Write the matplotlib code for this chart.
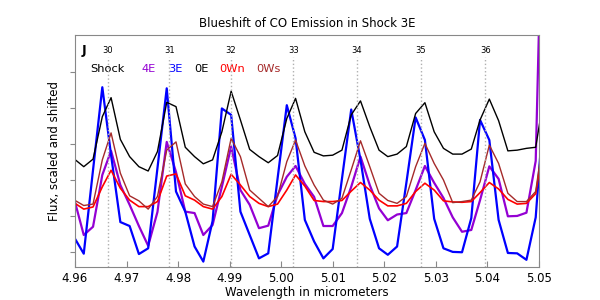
import matplotlib
matplotlib.use("Agg")
import matplotlib.pyplot as plt

# wavelength grid of the spectra (micrometers)
wavelength = [
    4.9599, 4.9617, 4.9635, 4.9653, 4.9670, 4.9688, 4.9706, 4.9724, 4.9742, 4.9760,
    4.9778, 4.9796, 4.9814, 4.9832, 4.9849, 4.9867, 4.9885, 4.9903, 4.9921, 4.9939,
    4.9957, 4.9975, 4.9993, 5.0011, 5.0028, 5.0046, 5.0064, 5.0082, 5.0100, 5.0118,
    5.0136, 5.0154, 5.0172, 5.0190, 5.0207, 5.0225, 5.0243, 5.0261, 5.0279, 5.0297,
    5.0315, 5.0333, 5.0351, 5.0369, 5.0386, 5.0404, 5.0422, 5.0440, 5.0458, 5.0476,
    5.0494, 5.0512,
]

# scaled and shifted flux per region
flux_4E = [
    1.44, 0.47, 0.70, 2.14, 2.81, 1.86, 1.31, 0.72, 0.17, 1.11,
    3.06, 2.22, 1.12, 1.08, 0.47, 0.75, 1.81, 2.93, 1.72, 1.31,
    0.66, 0.73, 1.58, 2.09, 2.39, 1.89, 1.53, 0.72, 0.72, 1.08,
    1.81, 2.65, 1.86, 1.21, 0.88, 1.04, 1.08, 1.72, 2.39, 1.92,
    1.50, 0.96, 0.56, 0.61, 1.44, 2.38, 2.03, 0.99, 1.00, 1.09,
    2.53, 13.0,
]
flux_3E = [
    0.39, -0.05, 2.28, 4.58, 2.69, 0.83, 0.72, -0.06, 0.10, 2.33,
    4.55, 1.68, 1.12, 0.15, -0.27, 0.86, 3.99, 3.81, 1.12, 0.47,
    -0.18, -0.04, 2.03, 4.08, 3.16, 0.89, 0.29, -0.18, 0.08, 2.03,
    3.96, 2.56, 0.92, 0.10, -0.08, 0.15, 1.92, 3.74, 3.11, 0.92,
    0.10, 0.00, -0.01, 0.94, 3.67, 3.11, 0.89, -0.03, -0.04, -0.22,
    0.96, 4.5,
]
flux_0E = [
    2.58, 2.37, 2.58, 3.76, 4.29, 3.13, 2.65, 2.37, 2.25, 2.79,
    4.16, 4.04, 2.91, 2.65, 2.45, 2.56, 3.34, 4.47, 3.67, 2.85,
    2.65, 2.48, 2.68, 3.71, 4.27, 3.34, 2.77, 2.67, 2.69, 2.83,
    3.81, 4.20, 3.48, 2.83, 2.65, 2.72, 2.93, 3.85, 4.15, 3.34,
    2.88, 2.72, 2.72, 2.86, 3.67, 4.25, 3.65, 2.81, 2.83, 2.88,
    2.91, 4.5,
]
flux_0Wn = [
    1.36, 1.19, 1.25, 1.81, 2.27, 1.77, 1.44, 1.26, 1.26, 1.40,
    2.11, 2.17, 1.56, 1.44, 1.26, 1.19, 1.54, 2.16, 1.86, 1.54,
    1.35, 1.26, 1.33, 1.72, 2.14, 1.83, 1.43, 1.40, 1.40, 1.43,
    1.69, 1.93, 1.72, 1.44, 1.28, 1.28, 1.35, 1.68, 1.91, 1.72,
    1.42, 1.39, 1.38, 1.40, 1.65, 1.93, 1.75, 1.46, 1.33, 1.35,
    1.62, 3.25,
]
flux_0Ws = [
    1.44, 1.29, 1.33, 2.56, 3.31, 2.19, 1.56, 1.42, 1.19, 1.54,
    2.83, 3.06, 1.89, 1.54, 1.33, 1.26, 1.95, 3.16, 2.65, 1.72,
    1.49, 1.26, 1.54, 2.51, 3.11, 2.39, 1.86, 1.44, 1.33, 1.49,
    2.28, 3.09, 2.37, 1.63, 1.43, 1.35, 1.54, 2.37, 3.02, 2.46,
    2.00, 1.37, 1.40, 1.44, 1.95, 2.97, 2.46, 1.63, 1.40, 1.40,
    1.68, 3.5,
]

# CO line positions and their numbers
line_numbers = [30, 31, 32, 33, 34, 35, 36]
line_wl = [4.96634, 4.97829, 4.99026, 5.00234, 5.01464, 5.02711, 5.03965]

region_names = ["4E", "3E", "0E", "0Wn", "0Ws"]
region_colors = ["#9400d3", "#0000ff", "black", "#ff0000", "#a52a2a"]
region_widths = [1.6, 1.6, 1.0, 1.2, 1.0]
region_flux = [flux_4E, flux_3E, flux_0E, flux_0Wn, flux_0Ws]

xticks = [4.96, 4.97, 4.98, 4.99, 5.00, 5.01, 5.02, 5.03, 5.04, 5.05]

fig, ax = plt.subplots(figsize=(6, 3), dpi=100)
fig.subplots_adjust(left=0.125, right=0.898, top=0.883, bottom=0.11)

for name, col, lw, flux in zip(region_names, region_colors, region_widths, region_flux):
    ax.plot(wavelength, flux, color=col, lw=lw)

# dotted markers for the lines
ax.vlines(line_wl, -0.42, 5.43, colors="#b0b0b0", linestyles=":", lw=1, zorder=5)
for n, w in zip(line_numbers, line_wl):
    ax.text(w, 5.6, str(n), ha="center", va="center", fontsize=6)

# key written as colored text
ax.text(4.9630, 5.08, "Shock", color="black", fontsize=8.2, va="center")
key_x = [4.9730, 4.9781, 4.9831, 4.9880, 4.9951]
for name, col, x in zip(region_names, region_colors, key_x):
    ax.text(x, 5.08, name, color=col, fontsize=8.2, va="center")

ax.text(4.9613, 5.6, "J", fontsize=9, fontweight="bold", va="center")

ax.set_xlim(4.96, 5.05)
ax.set_ylim(-0.42, 6.03)
ax.set_xticks(xticks)
ax.set_xticklabels([f"{t:.2f}" for t in xticks], fontsize=8.5)
ax.set_yticks([0, 1, 2, 3, 4, 5])
ax.set_yticklabels([])
ax.tick_params(axis="both", colors="#888888", labelcolor="black")
ax.tick_params(axis="x", direction="in", length=4)

for sp in ax.spines.values():
    sp.set_color("#888888")

ax.set_title("Blueshift of CO Emission in Shock 3E", fontsize=8.5)
ax.set_xlabel("Wavelength in micrometers", fontsize=8.5, labelpad=1)
ax.set_ylabel("Flux, scaled and shifted", fontsize=8.5)
ax.yaxis.set_label_coords(-0.03, 0.5)

plt.savefig("out.png", dpi=100)
